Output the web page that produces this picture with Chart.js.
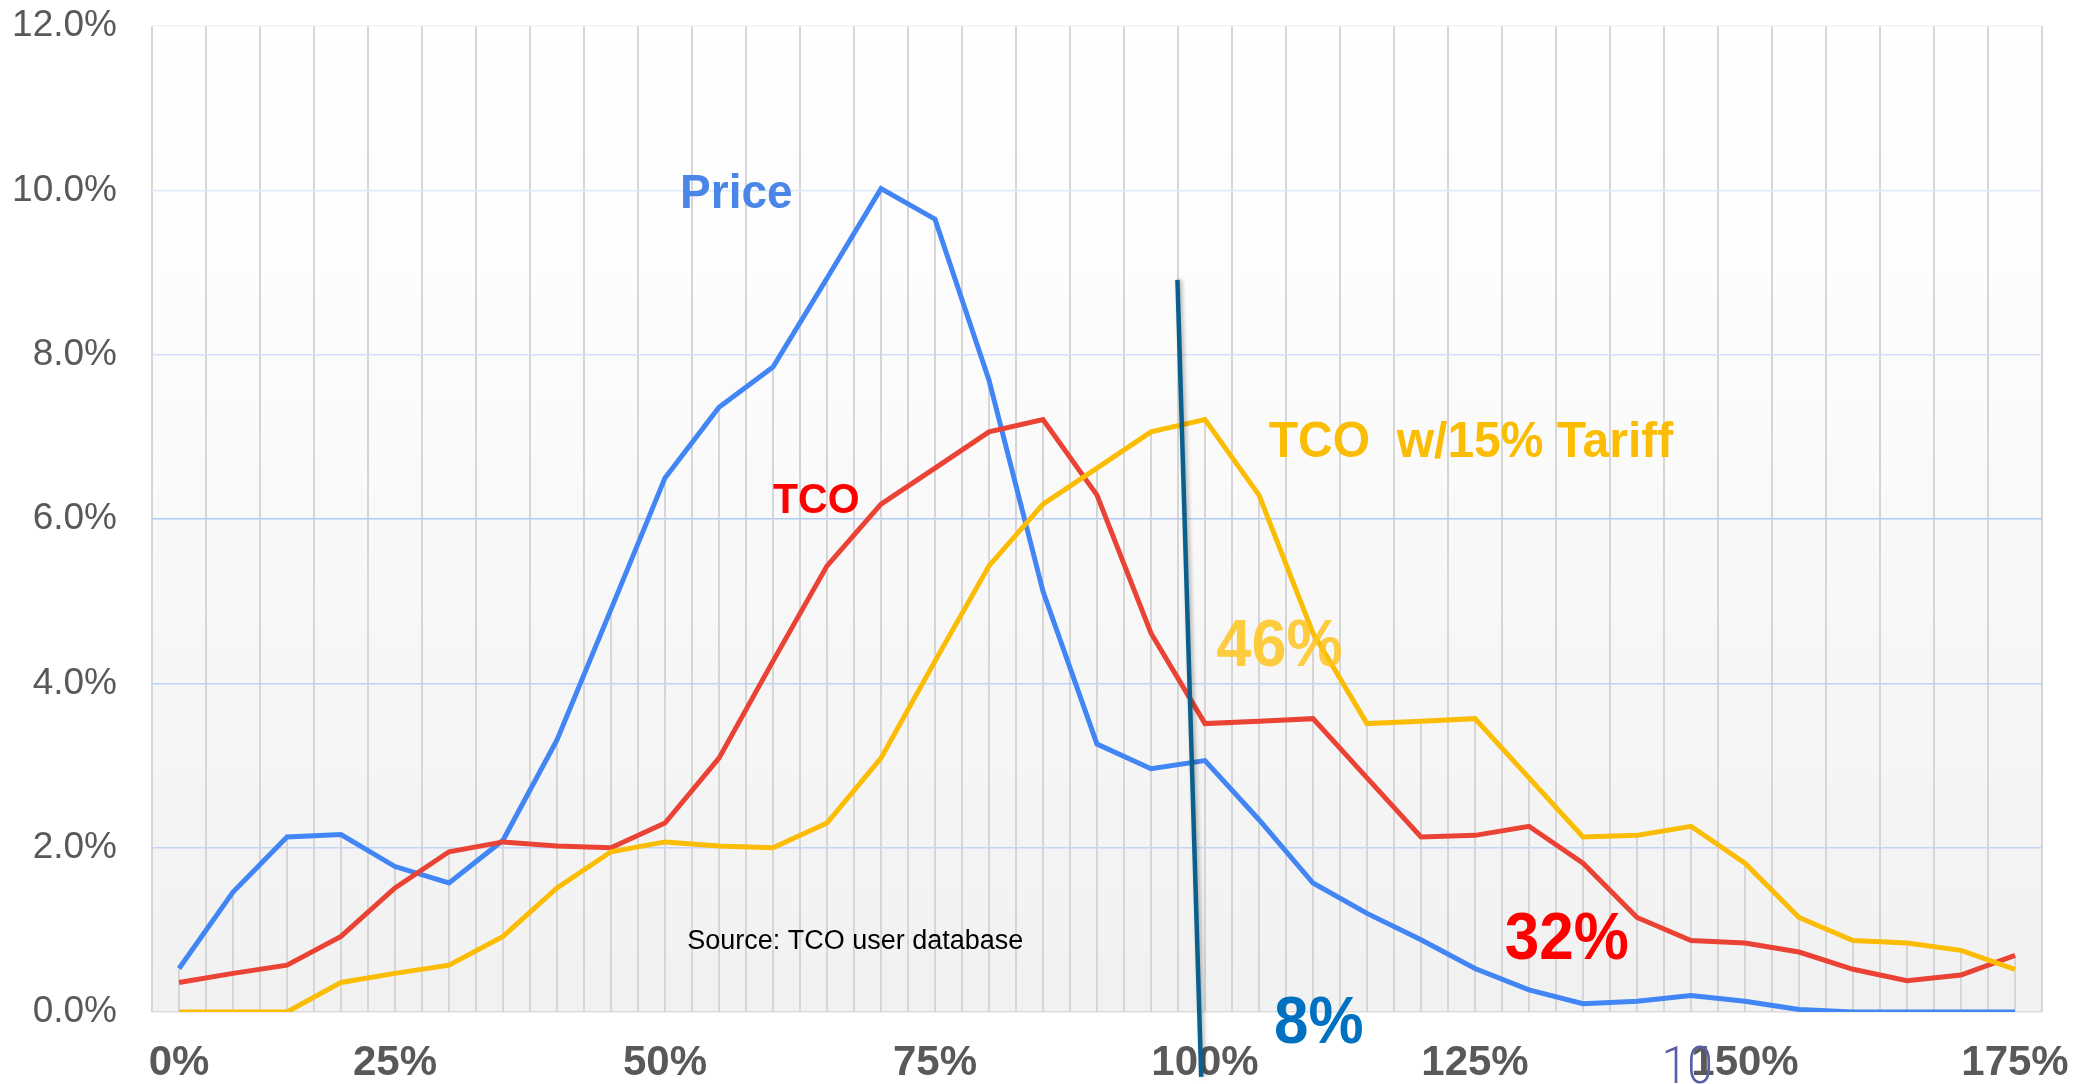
<!DOCTYPE html>
<html>
<head>
<meta charset="utf-8">
<script src="https://cdn.jsdelivr.net/npm/chart.js@4.4.1/dist/chart.umd.min.js"></script>
<style>
	html, body { margin: 0; padding: 0; background: #fff; }
	#wrap { width: 2075px; height: 1084px; }
</style>
</head>
<body>
<div id="wrap"><canvas id="tco-chart" width="2075" height="1084"></canvas></div>
<script>
	'use strict';

	// one bucket per 5% step, only some of them carry a label
	var categories = [
		'0%', '', '', '', '25%', '', '', '', '', '50%', '', '', '', '', '75%', '', '', '', '',
		'100%', '', '', '', '', '125%', '', '', '', '', '150%', '', '', '', '', '175%'
	];

	var priceShare = [
		0.53, 1.46, 2.13, 2.16, 1.77, 1.57, 2.09, 3.31, 4.90, 6.50, 7.36, 7.85, 8.93, 10.02, 9.65,
		7.69, 5.12, 3.26, 2.96, 3.06, 2.34, 1.57, 1.20, 0.88, 0.53, 0.27, 0.10, 0.13, 0.20, 0.13,
		0.03, 0.00, 0.00, 0.00, 0.00
	];

	var tcoShare = [
		0.36, 0.47, 0.57, 0.92, 1.51, 1.95, 2.07, 2.02, 2.00, 2.30, 3.09, 4.27, 5.43, 6.18, 6.62,
		7.06, 7.21, 6.29, 4.61, 3.51, 3.54, 3.57, 2.85, 2.13, 2.15, 2.26, 1.81, 1.15, 0.87, 0.84,
		0.73, 0.52, 0.38, 0.45, 0.69
	];

	var tariffShare = [
		0.00, 0.00, 0.00, 0.36, 0.47, 0.57, 0.92, 1.51, 1.95, 2.07, 2.02, 2.00, 2.30, 3.09, 4.27,
		5.43, 6.18, 6.62, 7.06, 7.21, 6.29, 4.61, 3.51, 3.54, 3.57, 2.85, 2.13, 2.15, 2.26, 1.81,
		1.15, 0.87, 0.84, 0.75, 0.52
	];

	var yTicks = [0, 2, 4, 6, 8, 10, 12];

	var FONT = '"Liberation Sans", Arial, sans-serif';

	// horizontal grid gets lighter towards the top of the gradient
	var yGridColors = {
		0: '#dcdcdc', 2: '#c2d5f5', 4: '#bcd1f4', 6: '#b0cbf4', 8: '#d4e2f8', 10: '#dde8fa', 12: '#eef3fc'
	};

	// callouts placed in data units (category index, percent)
	var callouts = [
		{ text: 'Price', x: 9.28, y: 9.78, size: 46, sy: 1.05, color: '#4a86e8', weight: 'bold' },
		{ text: 'TCO', x: 11.0, y: 6.07, size: 41, sy: 1.03, color: '#ff0000', weight: 'bold' },
		{ text: 'TCO  w/15% Tariff', x: 20.18, y: 6.75, size: 48, sy: 1.05, color: '#fbbc04', weight: 'bold' },
		{ text: '46%', x: 19.21, y: 4.21, size: 63, sy: 1.07, color: 'rgba(255, 196, 30, 0.85)', weight: 'bold' },
		{ text: '32%', x: 24.55, y: 0.64, size: 62, sy: 1.07, color: '#ff0000', weight: 'bold' },
		{ text: '8%', x: 20.28, y: -0.38, size: 62, sy: 1.08, color: '#0070c0', weight: 'bold' },
		{ text: 'Source: TCO user database', x: 9.41, y: 0.77, size: 27, sy: 1, color: '#000000', weight: 'normal' },
		{ text: '10', x: 27.46, y: -0.86, size: 46, sy: 1.12, color: '#5b5fa8', weight: '300', family: 'Roboto, ' + FONT }
	];

	var marker = { x1: 18.49, y1: 8.91, x2: 18.93, y2: -0.79 };

	var plotBackground = {
		id: 'plotBackground',
		beforeDraw: function ( chart ) {
			var a = chart.chartArea;
			var ctx = chart.ctx;
			var g = ctx.createLinearGradient( 0, a.top, 0, a.bottom );
			g.addColorStop( 0, '#ffffff' );
			g.addColorStop( 0.25, '#fdfdfd' );
			g.addColorStop( 1, '#f1f1f1' );
			ctx.save();
			ctx.fillStyle = g;
			ctx.fillRect( a.left, a.top, a.right - a.left, a.bottom - a.top );
			ctx.restore();
		}
	};

	// thin grey drop line under the highest series at each bucket
	var dropLines = {
		id: 'dropLines',
		beforeDatasetsDraw: function ( chart ) {
			var xs = chart.scales.x;
			var ys = chart.scales.y;
			var ctx = chart.ctx;
			ctx.save();
			ctx.strokeStyle = '#d6d6d6';
			ctx.lineWidth = 2;
			for ( var i = 0; i < categories.length; i++ ) {
				var top = Math.max( priceShare[i], tcoShare[i], tariffShare[i] );
				var px = xs.getPixelForValue( i );
				ctx.beginPath();
				ctx.moveTo( px, ys.getPixelForValue( top ) );
				ctx.lineTo( px, ys.getPixelForValue( 0 ) );
				ctx.stroke();
			}
			ctx.restore();
		}
	};

	var overlays = {
		id: 'overlays',
		afterDraw: function ( chart ) {
			var xs = chart.scales.x;
			var ys = chart.scales.y;
			var ctx = chart.ctx;

			callouts.forEach( function ( c ) {
				ctx.save();
				ctx.translate( xs.getPixelForValue( c.x ), ys.getPixelForValue( c.y ) );
				ctx.scale( 1, c.sy );
				ctx.font = c.weight + ' ' + c.size + 'px ' + ( c.family || FONT );
				ctx.fillStyle = c.color;
				ctx.textAlign = 'left';
				ctx.textBaseline = 'alphabetic';
				ctx.fillText( c.text, 0, 0 );
				ctx.restore();
			} );

			ctx.save();
			ctx.strokeStyle = '#0b5f8d';
			ctx.lineWidth = 4.5;
			ctx.shadowColor = 'rgba(0, 0, 0, 0.3)';
			ctx.shadowBlur = 4;
			ctx.shadowOffsetX = 2;
			ctx.beginPath();
			ctx.moveTo( xs.getPixelForValue( marker.x1 ), ys.getPixelForValue( marker.y1 ) );
			ctx.lineTo( xs.getPixelForValue( marker.x2 ), ys.getPixelForValue( marker.y2 ) );
			ctx.stroke();
			ctx.restore();
		}
	};

	function series( label, data, color, order ) {
		return {
			label: label,
			data: data,
			borderColor: color,
			backgroundColor: color,
			borderWidth: 5,
			pointRadius: 0,
			tension: 0,
			fill: false,
			order: order
		};
	}

	new Chart( document.getElementById( 'tco-chart' ), {
		type: 'line',
		data: {
			labels: categories,
			datasets: [
				series( 'Price', priceShare, '#4285f4', 3 ),
				series( 'TCO', tcoShare, '#ea4335', 2 ),
				series( 'TCO w/15% Tariff', tariffShare, '#fbbc04', 1 )
			]
		},
		options: {
			responsive: false,
			animation: false,
			devicePixelRatio: 1,
			layout: {
				padding: { top: 26, right: 33, bottom: 0, left: 0 }
			},
			plugins: {
				legend: { display: false },
				tooltip: { enabled: false }
			},
			scales: {
				x: {
					type: 'category',
					offset: true,
					border: { display: false },
					grid: {
						offset: true,
						color: '#d6d6d6',
						lineWidth: 2,
						drawTicks: false
					},
					ticks: {
						autoSkip: false,
						maxRotation: 0,
						padding: 26,
						color: '#595959',
						font: { family: FONT, size: 42, weight: 'bold' },
						callback: function ( v, i ) {
							return categories[i];
						}
					},
					afterFit: function ( scale ) {
						scale.height = 72;
						scale.paddingLeft = 0;
						scale.paddingRight = 0;
					}
				},
				y: {
					min: 0,
					max: 12,
					border: { display: false },
					grid: {
						lineWidth: 1.5,
						drawTicks: false,
						color: function ( ctx ) {
							return yGridColors[ ctx.tick ? ctx.tick.value : 0 ] || '#c9daf8';
						}
					},
					afterBuildTicks: function ( scale ) {
						scale.ticks = yTicks.map( function ( v ) {
							return { value: v };
						} );
					},
					ticks: {
						padding: 35,
						color: '#595959',
						font: { family: FONT, size: 37 },
						callback: function ( v ) {
							return v.toFixed( 1 ) + '%';
						}
					},
					afterFit: function ( scale ) {
						scale.width = 152;
						scale.paddingTop = 0;
						scale.paddingBottom = 0;
					}
				}
			}
		},
		plugins: [ plotBackground, dropLines, overlays ]
	} );
</script>
</body>
</html>
